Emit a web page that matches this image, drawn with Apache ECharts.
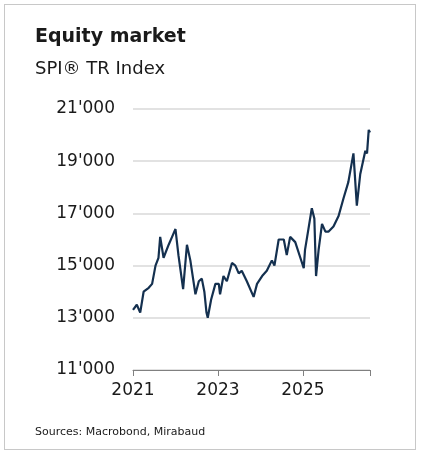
<!DOCTYPE html><html><head><meta charset="utf-8"><script src="https://cdn.jsdelivr.net/npm/echarts@6/dist/echarts.min.js"></script>
<style>html,body{margin:0;background:#fff}#b{position:absolute;left:4px;top:4px;width:412px;height:446px;border:1px solid #c8c8c8;box-sizing:border-box}#c{width:422px;height:456px}</style></head><body><div id="b"></div><div id="c"></div><script>
const years=[2021.0,2021.09,2021.17,2021.25,2021.37,2021.45,2021.53,2021.6,2021.64,2021.72,2021.84,2021.92,2022.0,2022.07,2022.18,2022.27,2022.35,2022.47,2022.55,2022.62,2022.68,2022.73,2022.76,2022.84,2022.94,2023.02,2023.05,2023.13,2023.21,2023.33,2023.41,2023.49,2023.56,2023.68,2023.84,2023.92,2024.04,2024.15,2024.27,2024.33,2024.43,2024.55,2024.62,2024.7,2024.82,2024.94,2025.02,2025.05,2025.13,2025.21,2025.27,2025.31,2025.37,2025.45,2025.53,2025.6,2025.72,2025.84,2025.96,2026.07,2026.19,2026.27,2026.35,2026.47,2026.51,2026.55,2026.58];
const values=[13300,13500,13200,14000,14150,14300,15000,15300,16100,15300,15800,16100,16400,15400,14100,15800,15200,13900,14400,14500,14000,13200,13000,13700,14300,14300,13900,14600,14400,15100,15000,14700,14800,14400,13800,14300,14600,14800,15200,15000,16000,16000,15400,16100,15900,15300,14900,15600,16400,17200,16800,14600,15600,16600,16300,16300,16500,16900,17600,18200,19300,17300,18500,19400,19300,20200,20100];
const yTicks=[11000,13000,15000,17000,19000,21000];
const xTicks=[2021,2023,2025];
const ff="'DejaVu Sans', sans-serif";
const ch=echarts.init(document.getElementById('c'));
ch.setOption({animation:false,
title:[{text:'Equity market',left:30,top:23,textStyle:{fontFamily:ff,fontSize:19,fontWeight:'bold',color:'#1a1a1a'}},
{text:'SPI® TR Index',left:30,top:55,textStyle:{fontFamily:ff,fontSize:18,fontWeight:'normal',color:'#1a1a1a'}},
{text:'Sources: Macrobond, Mirabaud',left:30,top:422,textStyle:{fontFamily:ff,fontSize:11,fontWeight:'normal',color:'#1a1a1a'}}],
grid:{left:133,right:52,top:109,bottom:86},
xAxis:{type:'value',min:2021,max:2026.58,interval:2,
axisLabel:{fontFamily:ff,fontSize:17,color:'#1a1a1a',margin:12,formatter:v=>xTicks.includes(v)?String(v):''},
axisLine:{lineStyle:{color:'#808080'}},axisTick:{show:true,length:6,lineStyle:{color:'#808080'}},splitLine:{show:false}},
yAxis:{type:'value',min:11000,max:21000,interval:2000,
axisLabel:{fontFamily:ff,fontSize:17,color:'#1a1a1a',margin:18,formatter:v=>yTicks.includes(v)?(v/1000)+"'000":''},
axisLine:{show:false},axisTick:{show:false},splitLine:{lineStyle:{color:'#d9d9d9',width:1.5}}},
series:[{type:'line',data:years.map((y,i)=>[y,values[i]]),symbol:'none',lineStyle:{color:'#14304f',width:2.2}}]});
</script></body></html>
